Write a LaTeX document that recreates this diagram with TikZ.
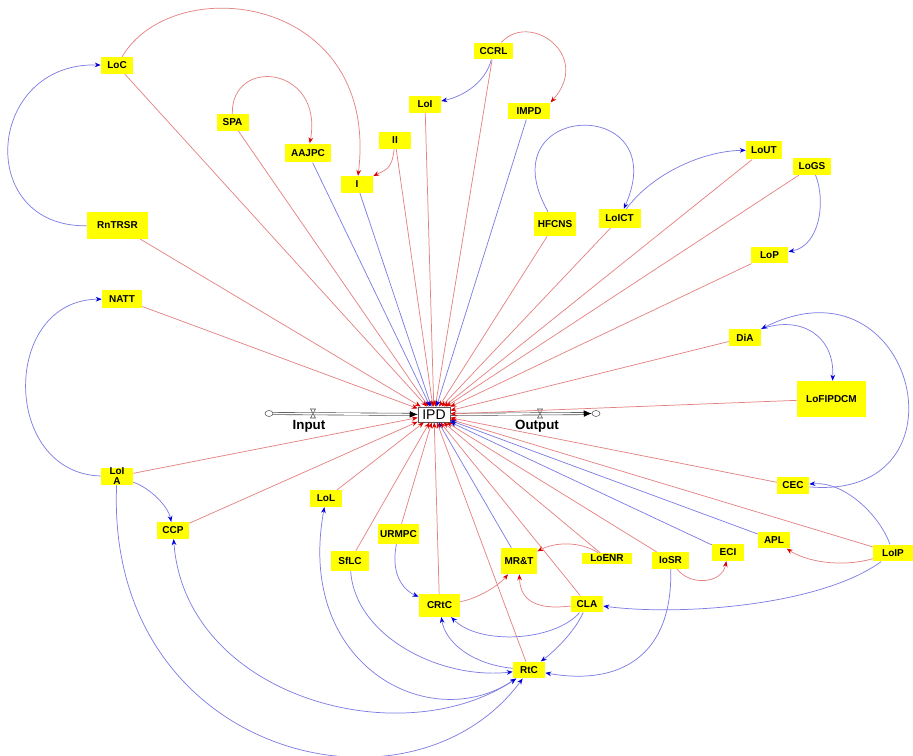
\documentclass[tikz,border=0pt]{standalone}
\usepackage{fontspec}
\setmainfont{Liberation Sans}
\usetikzlibrary{arrows.meta,shapes.geometric}

\definecolor{poscol}{RGB}{228,130,130}
\definecolor{negcol}{RGB}{125,125,228}
\definecolor{varfill}{RGB}{255,255,0}

\tikzset{
    var/.style={fill=varfill, font=\fontsize{7.5}{7.5}\selectfont\bfseries,
        inner sep=1pt, minimum width=24pt, minimum height=12.5pt},
    plink/.style={draw=poscol, line width=0.55pt,
        -{Stealth[length=4.5pt,width=3.5pt,color=red!85!black]}},
    nlink/.style={draw=negcol, line width=0.55pt,
        -{Stealth[length=4.5pt,width=3.5pt,color=blue!85!black]}},
    nlinkboth/.style={draw=negcol, line width=0.55pt,
        {Stealth[length=4.5pt,width=3.5pt,color=blue!85!black]}-{Stealth[length=4.5pt,width=3.5pt,color=blue!85!black]}},
    stock/.style={draw=gray!70!black, fill=white, font=\fontsize{10.5}{12}\selectfont,
        minimum width=24pt, minimum height=11.5pt, inner sep=1pt},
    pipe/.style={draw=gray!60!black, double=white, double distance=1.2pt, line width=0.45pt,
        -{Latex[length=6pt,width=5pt,color=black]}},
    sourcesink/.style={ellipse, draw=gray!60!black, fill=white,
        minimum width=6pt, minimum height=4.5pt, inner sep=0pt},
    valvemark/.style={draw=gray!60!black, fill=white, line width=0.4pt},
    flowlabel/.style={font=\fontsize{10}{12}\selectfont\bfseries},
}

\begin{document}
\begin{tikzpicture}[x=0.75pt, y=0.75pt]
    \useasboundingbox (0,0) rectangle (913,756);

    % --- Stock and flows ---
    \node[stock] (ipd) at (434,341.5) {IPD};
    \node[sourcesink] (cin) at (269,342.5) {};
    \node[sourcesink] (cout) at (596,342.5) {};
    \coordinate (vin) at (313,342.5);
    \coordinate (vout) at (540,342.5);
    \node[flowlabel] (input) at (309,330) {Input};
    \node[flowlabel] (output) at (537,330) {Output};

    % --- Variables (upper half) ---
    \node[var] (loc) at (117,690.5) {LoC};
    \node[var] (spa) at (232.5,633.5) {SPA};
    \node[var, minimum width=34pt, minimum height=14pt] (aajpc) at (308,603) {AAJPC};
    \node[var] (ii) at (395,615.5) {II};
    \node[var] (i) at (357,571.5) {I};
    \node[var] (loi) at (425,651.5) {LoI};
    \node[var, minimum width=29pt] (ccrl) at (493.5,705) {CCRL};
    \node[var, minimum width=32pt] (impd) at (529,645) {IMPD};
    \node[var, minimum width=31pt, minimum height=18pt] (hfcns) at (555,532) {HFCNS};
    \node[var, minimum width=31.5pt, minimum height=14pt] (loict) at (619.5,537.5) {LoICT};
    \node[var, minimum width=27pt, minimum height=14pt] (lout) at (764,606) {LoUT};
    \node[var, minimum width=28pt] (logs) at (812,589.5) {LoGS};
    \node[var, minimum width=28pt] (lop) at (769.5,501) {LoP};
    \node[var, minimum width=46pt, minimum height=20pt] (rntrsr) at (117.5,530.5) {RnTRSR};
    \node[var, minimum width=30pt, minimum height=13.5pt] (natt) at (122,457) {NATT};
    \node[var] (dia) at (745,418.5) {DiA};
    \node[var, minimum width=52pt, minimum height=27pt] (lofipdcm) at (831.5,357) {LoFIPDCM};

    % --- Variables (lower half) ---
    \node[var] (cec) at (793,270.5) {CEC};
    \node[var, align=center, inner sep=0pt] (loia) at (117,279.5) {LoI\\A};
    \node[var] (ccp) at (173,225.5) {CCP};
    \node[var] (lol) at (326,257.5) {LoL};
    \node[var, minimum width=28.5pt, minimum height=15pt] (sflc) at (350,195) {SfLC};
    \node[var, minimum width=31pt, minimum height=15pt] (urmpc) at (398.5,222) {URMPC};
    \node[var, minimum width=31pt, minimum height=17pt] (crtc) at (439.5,150.5) {CRtC};
    \node[var, minimum width=27pt, minimum height=19.5pt] (mrt) at (519,195) {MR\&T};
    \node[var, minimum width=37.5pt, minimum height=8pt, inner ysep=0pt] (loenr) at (607,197.5) {LoENR};
    \node[var, minimum width=28pt] (iosr) at (670.5,195.5) {IoSR};
    \node[var] (eci) at (728,203.5) {ECI};
    \node[var] (apl) at (774,216) {APL};
    \node[var, minimum width=30pt] (loip) at (893,203) {LoIP};
    \node[var] (cla) at (587,152) {CLA};
    \node[var] (rtc) at (529,86) {RtC};

    % --- Flow pipes into and out of IPD ---
    \draw[pipe] (cin) -- (ipd);
    \draw[pipe] (ipd) -- (cout);
    \draw[valvemark] (vin) ++(-2.5,-4.5) -- ++(5,0) -- ++(-5,9) -- ++(5,0) -- cycle;
    \draw[valvemark] (vout) ++(-2.5,-4.5) -- ++(5,0) -- ++(-5,9) -- ++(5,0) -- cycle;

    % --- Links into IPD ---
    \draw[plink] (loc) -- (ipd);
    \draw[plink] (spa) -- (ipd);
    \draw[nlink] (aajpc) -- (ipd);
    \draw[nlink] (i) -- (ipd);
    \draw[plink] (ii) -- (ipd);
    \draw[plink] (loi) -- (ipd);
    \draw[plink] (ccrl) -- (ipd);
    \draw[nlink] (impd) -- (ipd);
    \draw[plink] (hfcns) -- (ipd);
    \draw[plink] (loict) -- (ipd);
    \draw[plink] (lout) -- (ipd);
    \draw[plink] (logs) -- (ipd);
    \draw[plink] (lop) -- (ipd);
    \draw[plink] (rntrsr) -- (ipd);
    \draw[plink] (natt) -- (ipd);
    \draw[plink] (dia) -- (ipd);
    \draw[plink] (lofipdcm) -- (ipd);
    \draw[plink] (cec) -- (ipd);
    \draw[plink] (loip) -- (ipd);
    \draw[nlink] (apl) -- (ipd);
    \draw[nlink] (eci) -- (ipd);
    \draw[plink] (iosr) -- (ipd);
    \draw[plink] (loenr) -- (ipd);
    \draw[nlink] (mrt) -- (ipd);
    \draw[plink] (cla) -- (ipd);
    \draw[plink] (rtc) -- (ipd);
    \draw[plink] (crtc) -- (ipd);
    \draw[plink] (urmpc) -- (ipd);
    \draw[plink] (sflc) -- (ipd);
    \draw[plink] (lol) -- (ipd);
    \draw[plink] (ccp) -- (ipd);
    \draw[plink] (loia) -- (ipd);

    % --- Curved links, upper half ---
    \draw[nlink] (rntrsr) .. controls +(-143.5,-1.5) and +(-131,3.5) .. (loc);
    \draw[plink] (loc) .. controls +(56,95.5) and +(23,190.5) .. (i);
    \draw[plink] (spa) .. controls +(-1.5,66.5) and +(16,87) .. (aajpc);
    \draw[plink] (ii) .. controls +(-3,-29.5) and +(28,14.5) .. (i);
    \draw[nlink] (ccrl) .. controls +(-7.5,-30) and +(40,8.5) .. (loi);
    \draw[plink] (ccrl) .. controls +(36.5,40) and +(42,47) .. (impd.north east);
    \draw[nlink] (hfcns) .. controls +(-70,123) and +(55.5,124.5) .. (loict);
    \draw[nlink] (loict) .. controls +(30.5,42.5) and +(-64,-1) .. (lout);
    \draw[nlink] (logs) .. controls +(14,-34.5) and +(50.5,9) .. (lop);
    \draw[nlink] (dia.north east) .. controls +(40,14) and +(3.5,63) .. (lofipdcm);
    \draw[nlink] (cec) .. controls +(182,-15.5) and +(154,78) .. (dia.north east);
    \draw[nlink] (loia) .. controls +(-116,3.5) and +(-121,-1) .. (natt);

    % --- Curved links, lower half ---
    \draw[nlink] (loia) .. controls +(33,-11.5) and +(-5,24.5) .. (ccp);
    \draw[nlink] (loip) .. controls +(-13,37) and +(52,4.5) .. (cec);
    \draw[plink] (loip) .. controls +(-53,-15) and +(31,-21) .. (apl);
    \draw[nlink] (loip) .. controls +(-73,-53) and +(93,-12) .. (cla);
    \draw[plink] (iosr) .. controls +(19.5,-25.5) and +(-6,-31.5) .. (eci);
    \draw[nlink] (iosr) .. controls +(2.5,-95.5) and +(91,-16) .. (rtc);
    \draw[plink] (loenr) .. controls +(-27,17.5) and +(36,19) .. (mrt);
    \draw[plink] (cla) .. controls +(-57,-7) and +(1,-35) .. (mrt);
    \draw[plink] (crtc) .. controls +(40.5,7.5) and +(-19,-23) .. (mrt);
    \draw[nlink] (cla) .. controls +(-32,-37) and +(40.5,-40.5) .. (crtc);
    \draw[nlink] (cla) .. controls +(-12,-27) and +(26,19) .. (rtc);
    \draw[nlink] (urmpc) .. controls +(-8.5,-42) and +(-34.5,14.5) .. (crtc);
    \draw[nlink] (rtc) .. controls +(-59,6) and +(5.5,-35.5) .. (crtc);
    \draw[nlink] (sflc) .. controls +(5,-75) and +(-89,-10) .. (rtc);
    \draw[nlinkboth] (lol) .. controls +(-31,-167.5) and +(-99,-66) .. (rtc);
    \draw[nlinkboth] (ccp) .. controls +(12,-165.5) and +(-129,-86) .. (rtc);
    \draw[nlink] (loia) .. controls +(-12,-279.5) and +(-119,-161) .. (rtc);
\end{tikzpicture}
\end{document}
